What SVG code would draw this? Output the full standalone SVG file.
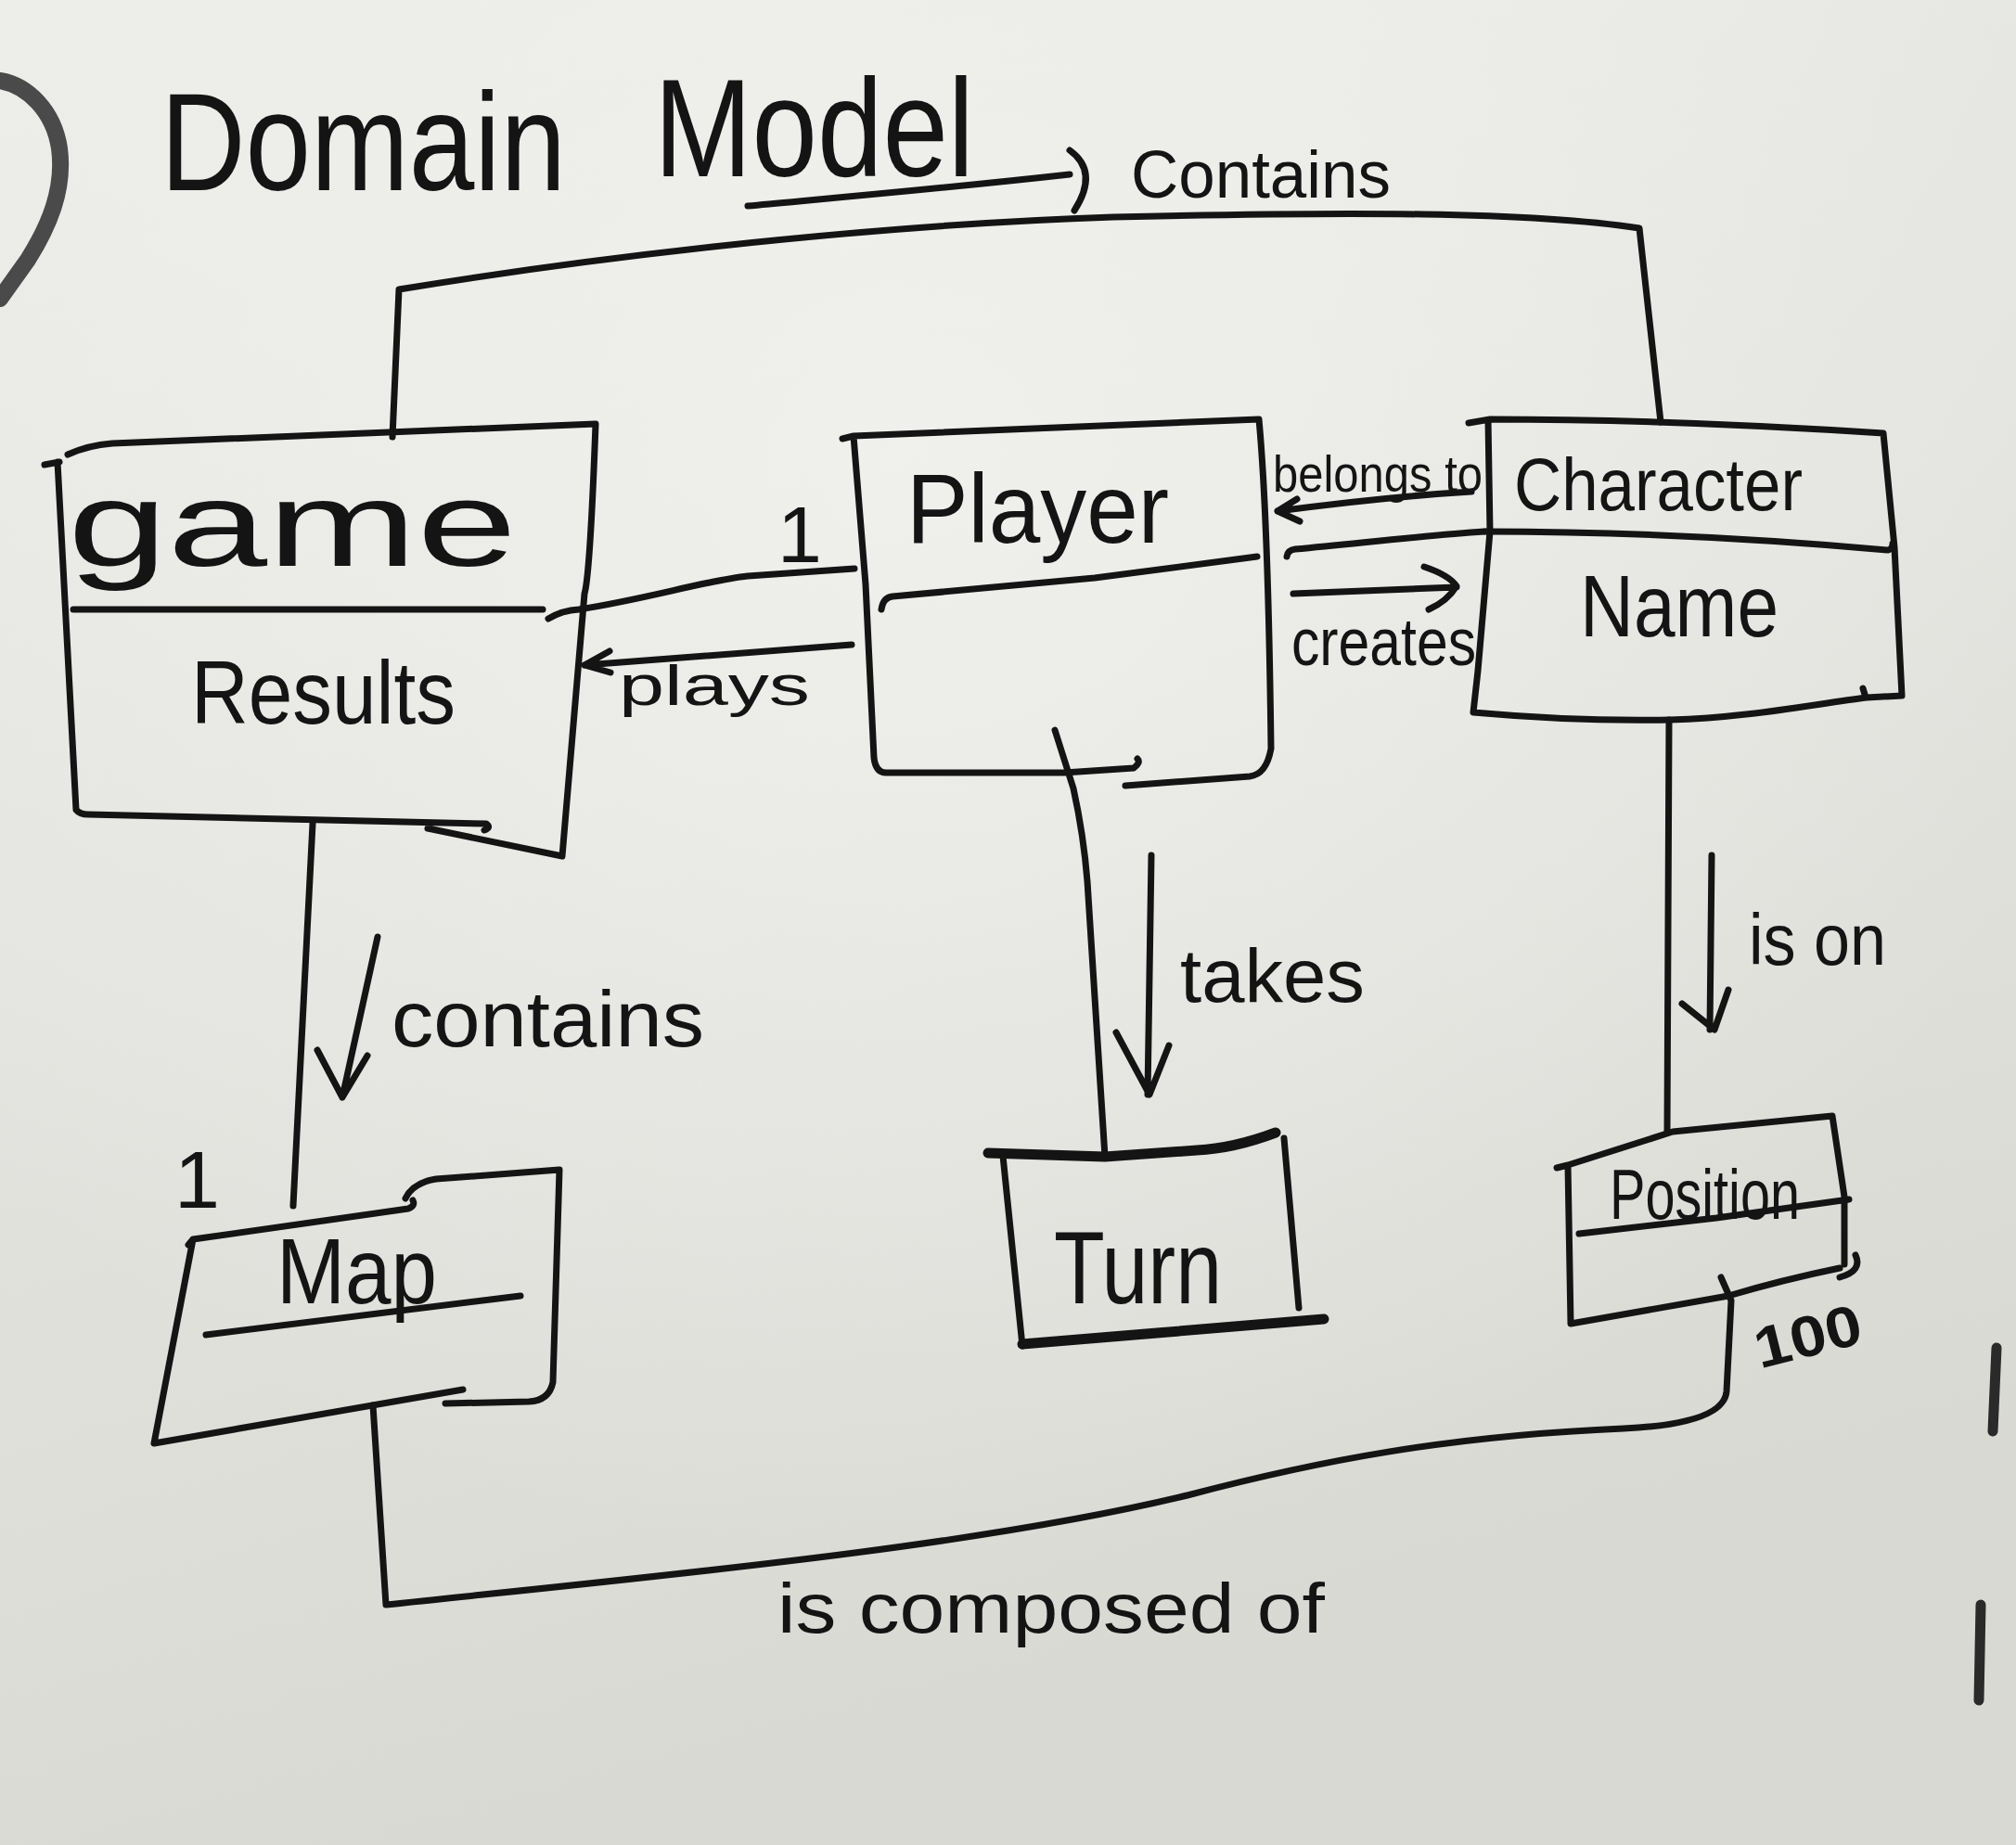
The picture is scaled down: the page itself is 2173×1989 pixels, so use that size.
<svg xmlns="http://www.w3.org/2000/svg" width="2173" height="1989" viewBox="0 0 2173 1989">
  <defs>
    <linearGradient id="board" x1="0" y1="0" x2="0.3" y2="1">
      <stop offset="0" stop-color="#ecece9"/>
      <stop offset="0.5" stop-color="#e3e3df"/>
      <stop offset="1" stop-color="#d9d9d4"/>
    </linearGradient>
    <radialGradient id="glow" cx="0.45" cy="0.25" r="0.6">
      <stop offset="0" stop-color="#f4f4f2" stop-opacity="0.7"/>
      <stop offset="1" stop-color="#f4f4f2" stop-opacity="0"/>
    </radialGradient>
    <style>
      .ink { fill: none; stroke: #141414; stroke-width: 7; stroke-linecap: round; stroke-linejoin: round; }
      .thick { stroke-width: 11; }
      .hand { font-family: "Liberation Sans", "DejaVu Sans", sans-serif; fill: #141414; }
    </style>
  </defs>

  <rect x="0" y="0" width="2173" height="1989" fill="url(#board)"/>
  <rect x="0" y="0" width="2173" height="1989" fill="url(#glow)"/>

  <!-- edge marks on the board -->
  <g id="board-marks">
    <path d="M 0,87 C 30,92 58,120 64,160 C 70,205 52,245 30,280 L 0,322" fill="none" stroke="#4a4a4a" stroke-width="18" stroke-linecap="round"/>
    <path d="M 2152,1453 L 2148,1543" fill="none" stroke="#2a2a2a" stroke-width="11" stroke-linecap="round"/>
    <path d="M 2135,1730 L 2133,1833" fill="none" stroke="#2a2a2a" stroke-width="11" stroke-linecap="round"/>
  </g>

  <!-- title -->
  <g id="title">
    <text class="hand" x="173" y="205" font-size="150" textLength="437" lengthAdjust="spacingAndGlyphs">Domain</text>
    <text class="hand" x="705" y="190" font-size="150" textLength="345" lengthAdjust="spacingAndGlyphs">Model</text>
  </g>

  <!-- connectors -->
  <g id="connectors">
    <!-- Game contains Character (top) -->
    <path class="ink" d="M 806,222 C 880,215 1000,205 1153,188"/>
    <path class="ink" d="M 1153,162 Q 1185,185 1158,227"/>
    <text class="hand" x="1219" y="213" font-size="72" textLength="280" lengthAdjust="spacingAndGlyphs">Contains</text>
    <path class="ink" d="M 423,471 L 430,312 C 600,284 900,244 1200,234 C 1450,228 1650,228 1767,246 L 1790,455"/>

    <!-- Game - Player -->
    <path class="ink" d="M 591,667 Q 606,658 624,657 C 700,645 760,626 806,621 L 921,613"/>
    <text class="hand" x="838" y="606" font-size="86">1</text>
    <path class="ink" d="M 918,695 L 630,717 M 630,717 L 657,702 M 630,717 L 658,725"/>
    <text class="hand" x="667" y="760" font-size="62" textLength="206" lengthAdjust="spacingAndGlyphs">plays</text>

    <!-- Player - Character -->
    <path class="ink" d="M 1586,530 C 1520,534 1460,540 1377,551 M 1377,551 L 1398,538 M 1377,551 L 1401,562"/>
    <text class="hand" x="1372" y="530" font-size="56" textLength="226" lengthAdjust="spacingAndGlyphs">belongs to</text>
    <path class="ink" d="M 1387,600 Q 1388,593 1396,592 C 1480,584 1540,577 1600,573"/>
    <path class="ink" d="M 1394,640 L 1570,633 M 1535,611 Q 1562,620 1570,632 Q 1560,648 1540,657"/>
    <text class="hand" x="1392" y="717" font-size="72" textLength="199" lengthAdjust="spacingAndGlyphs">creates</text>

    <!-- Game contains Map -->
    <path class="ink" d="M 337,888 L 316,1300"/>
    <path class="ink" d="M 407,1010 L 369,1183 M 342,1132 L 369,1183 L 396,1138"/>
    <text class="hand" x="422" y="1128" font-size="86" textLength="337" lengthAdjust="spacingAndGlyphs">contains</text>
    <text class="hand" x="188" y="1302" font-size="88">1</text>

    <!-- Player takes Turn -->
    <path class="ink" d="M 1137,787 L 1157,850 Q 1168,900 1172,950 L 1191,1247"/>
    <path class="ink" d="M 1241,922 L 1237,1180 M 1203,1113 L 1239,1180 L 1260,1127"/>
    <text class="hand" x="1272" y="1080" font-size="82" textLength="199" lengthAdjust="spacingAndGlyphs">takes</text>

    <!-- Character is on Position -->
    <path class="ink" d="M 1799,776 L 1797,1220"/>
    <path class="ink" d="M 1845,922 L 1843,1110 M 1813,1082 L 1848,1110 L 1863,1067"/>
    <text class="hand" x="1885" y="1040" font-size="78" textLength="148" lengthAdjust="spacingAndGlyphs">is on</text>

    <!-- Map is composed of Position -->
    <path class="ink" d="M 402,1515 L 416,1730 C 700,1700 1050,1668 1280,1612 C 1420,1575 1560,1548 1750,1540 Q 1858,1535 1861,1500 L 1866,1402 L 1855,1377"/>
    <text class="hand" x="838" y="1760" font-size="76" textLength="590" lengthAdjust="spacingAndGlyphs">is composed of</text>
    <text class="hand" x="1890" y="1462" font-size="62" font-weight="bold" textLength="117" lengthAdjust="spacingAndGlyphs" transform="rotate(-14 1948 1440)">100</text>
  </g>

  <!-- nodes -->
  <g id="node-game">
    <path class="ink" d="M 48,501 L 64,498 M 73,490 Q 95,480 121,478 L 642,457 Q 636,620 630,640 L 606,923 M 461,893 L 606,923 M 62,498 L 82,873 Q 86,878 95,878 L 524,888 Q 530,892 522,895"/>
    <path class="ink" d="M 79,657 L 585,657"/>
    <text class="hand" x="73" y="610" font-size="130" textLength="484" lengthAdjust="spacingAndGlyphs">game</text>
    <text class="hand" x="206" y="780" font-size="96" textLength="285" lengthAdjust="spacingAndGlyphs">Results</text>
  </g>

  <g id="node-player">
    <path class="ink" d="M 908,473 L 920,470 L 1357,452 Q 1367,560 1370,807 Q 1365,835 1347,837 L 1213,847 M 920,470 L 933,630 L 942,817 Q 944,833 955,833 L 1147,833 L 1222,828 Q 1230,822 1226,818"/>
    <path class="ink" d="M 950,657 Q 952,644 962,643 L 1180,623 L 1355,600"/>
    <text class="hand" x="977" y="585" font-size="105" textLength="283" lengthAdjust="spacingAndGlyphs">Player</text>
  </g>

  <g id="node-character">
    <path class="ink" d="M 1583,456 L 1606,452 Q 1800,452 2030,467 L 2042,590 L 2050,750 L 2012,752 M 2008,742 L 2011,752 M 1604,453 L 1606,573 L 1593,723 L 1588,768 Q 1700,778 1800,776 C 1880,774 1950,760 2012,752"/>
    <path class="ink" d="M 1601,573 Q 1810,573 2035,593 Q 2040,592 2040,586"/>
    <text class="hand" x="1632" y="550" font-size="80" textLength="311" lengthAdjust="spacingAndGlyphs">Character</text>
    <text class="hand" x="1703" y="686" font-size="94" textLength="214" lengthAdjust="spacingAndGlyphs">Name</text>
  </g>

  <g id="node-map">
    <path class="ink" d="M 203,1342 L 208,1336 L 440,1303 Q 448,1300 445,1294 M 437,1292 Q 445,1275 470,1271 L 603,1261 L 596,1490 Q 592,1510 570,1511 L 480,1513 M 208,1336 L 166,1556 L 499,1498"/>
    <path class="ink" d="M 222,1439 L 561,1397"/>
    <text class="hand" x="298" y="1405" font-size="100" textLength="173" lengthAdjust="spacingAndGlyphs">Map</text>
  </g>

  <g id="node-turn">
    <path class="ink thick" d="M 1065,1243 L 1191,1247 L 1290,1240 Q 1330,1238 1375,1221"/>
    <path class="ink" d="M 1081,1246 L 1102,1451 M 1384,1227 L 1400,1410"/>
    <path class="ink thick" d="M 1102,1449 L 1247,1437 L 1427,1422"/>
    <text class="hand" x="1136" y="1405" font-size="112" textLength="181" lengthAdjust="spacingAndGlyphs">Turn</text>
  </g>

  <g id="node-position">
    <path class="ink" d="M 1678,1259 L 1690,1256 L 1803,1220 L 1975,1203 L 1988,1290 L 1988,1363 M 2000,1353 Q 2008,1370 1983,1377 M 1690,1256 L 1693,1427 L 1863,1397 Q 1920,1380 1983,1367"/>
    <path class="ink" d="M 1702,1330 L 1850,1313 L 1993,1293"/>
    <text class="hand" x="1735" y="1314" font-size="76" textLength="205" lengthAdjust="spacingAndGlyphs">Position</text>
  </g>
</svg>
